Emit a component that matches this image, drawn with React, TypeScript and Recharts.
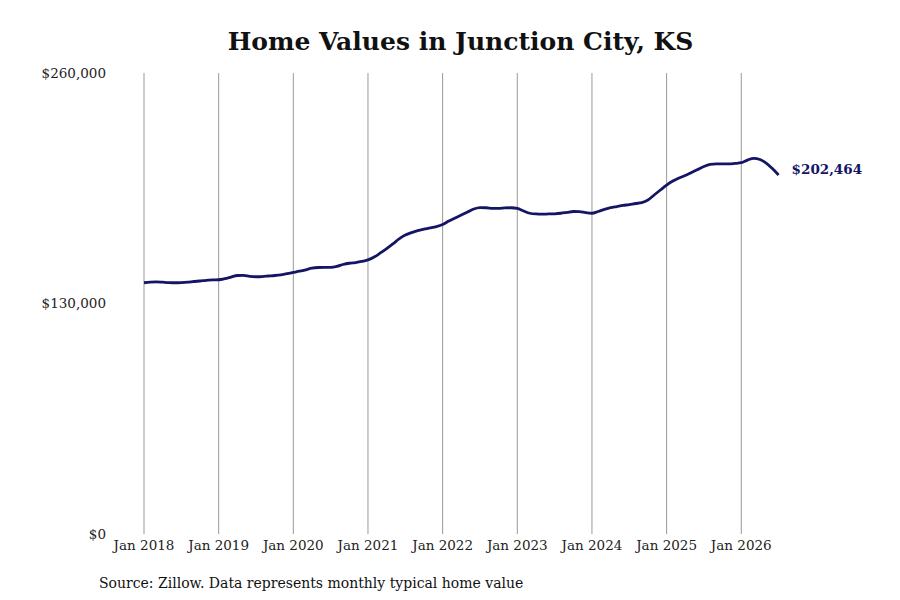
import React from 'react';
import { LineChart, Line, XAxis, YAxis, ReferenceLine } from 'recharts';

const xTickLabels = ['Jan 2018', 'Jan 2019', 'Jan 2020', 'Jan 2021', 'Jan 2022', 'Jan 2023', 'Jan 2024', 'Jan 2025', 'Jan 2026'];
const yTicks = [0, 130000, 260000];

const values2018 = [141700, 142100, 142200, 142000, 141800, 141700, 141800, 142000, 142400, 142700, 143100, 143300];
const values2019 = [143400, 144000, 144900, 145800, 145900, 145300, 145100, 145200, 145500, 145800, 146200, 146800];
const values2020 = [147500, 148200, 149000, 149900, 150300, 150400, 150400, 150900, 152000, 152700, 153100, 153700];
const values2021 = [154600, 156200, 158500, 161000, 163600, 166400, 168600, 170000, 171100, 171900, 172600, 173400];
const values2022 = [174600, 176500, 178200, 179900, 181600, 183300, 184100, 184000, 183700, 183600, 183900, 184000];
const values2023 = [183600, 182200, 180900, 180500, 180400, 180500, 180600, 180900, 181400, 181900, 181800, 181200];
const values2024 = [180900, 181900, 183100, 184100, 184700, 185300, 185800, 186400, 186900, 188400, 191200, 194000];
const values2025 = [196800, 199100, 200800, 202200, 203900, 205600, 207300, 208400, 208700, 208700, 208700, 209000];
const values2026 = [209400, 210900, 211900, 211200, 209200, 206100, 202464];

const allValues = [
  ...values2018, ...values2019, ...values2020, ...values2021, ...values2022,
  ...values2023, ...values2024, ...values2025, ...values2026,
];

const data = allValues.map((v, i) => ({ m: i, value: v }));
const lastIndex = allValues.length - 1;
const xTicks = xTickLabels.map((_, i) => i * 12);

const FONT = '"DejaVu Serif", serif';
const NAVY = '#151565';

const fmt = (v: number) => '$' + v.toLocaleString('en-US');

const EndLabel = (props: any) => {
  const { x, y, index } = props;
  if (index !== lastIndex) return null;
  return (
    <text x={x + 13} y={y - 5.5} dy="0.355em" fill={NAVY} fontFamily={FONT} fontWeight="bold" fontSize={13.5}>
      {fmt(allValues[lastIndex])}
    </text>
  );
};

export default function App() {
  return (
    <div style={{ position: 'absolute', left: 0, top: 0, width: 900, height: 600, background: '#fff' }}>
      <div
        style={{
          position: 'absolute', left: 0, top: 24, width: 921, textAlign: 'center',
          fontFamily: FONT, fontWeight: 'bold', fontSize: 25, color: '#111', lineHeight: '36px',
        }}
      >
        Home Values in Junction City, KS
      </div>
      <LineChart width={900} height={600} data={data} margin={{ top: 73, right: 121.4, bottom: 36, left: 0 }}>
        {xTicks.map((t) => (
          <ReferenceLine key={t} x={t} stroke="#999" strokeWidth={1} />
        ))}
        <XAxis
          type="number"
          dataKey="m"
          domain={[0, lastIndex]}
          ticks={xTicks}
          tickFormatter={(v: number) => xTickLabels[Math.round(v / 12)]}
          axisLine={false}
          tickLine={false}
          tickSize={0}
          tickMargin={6}
          height={30}
          interval={0}
          tick={{ fontFamily: FONT, fontSize: 13.5, fill: '#222' }}
        />
        <YAxis
          domain={[0, 260000]}
          ticks={yTicks}
          tickFormatter={fmt}
          axisLine={false}
          tickLine={false}
          tickSize={0}
          tickMargin={38}
          width={144}
          interval={0}
          tick={{ fontFamily: FONT, fontSize: 13.5, fill: '#222' }}
        />
        <Line
          type="monotone"
          dataKey="value"
          stroke={NAVY}
          strokeWidth={2.8}
          dot={false}
          isAnimationActive={false}
          label={<EndLabel />}
        />
      </LineChart>
      <div
        style={{
          position: 'absolute', left: 99, top: 573, fontFamily: FONT, fontSize: 14, color: '#111', lineHeight: '20px',
        }}
      >
        Source: Zillow. Data represents monthly typical home value
      </div>
    </div>
  );
}
